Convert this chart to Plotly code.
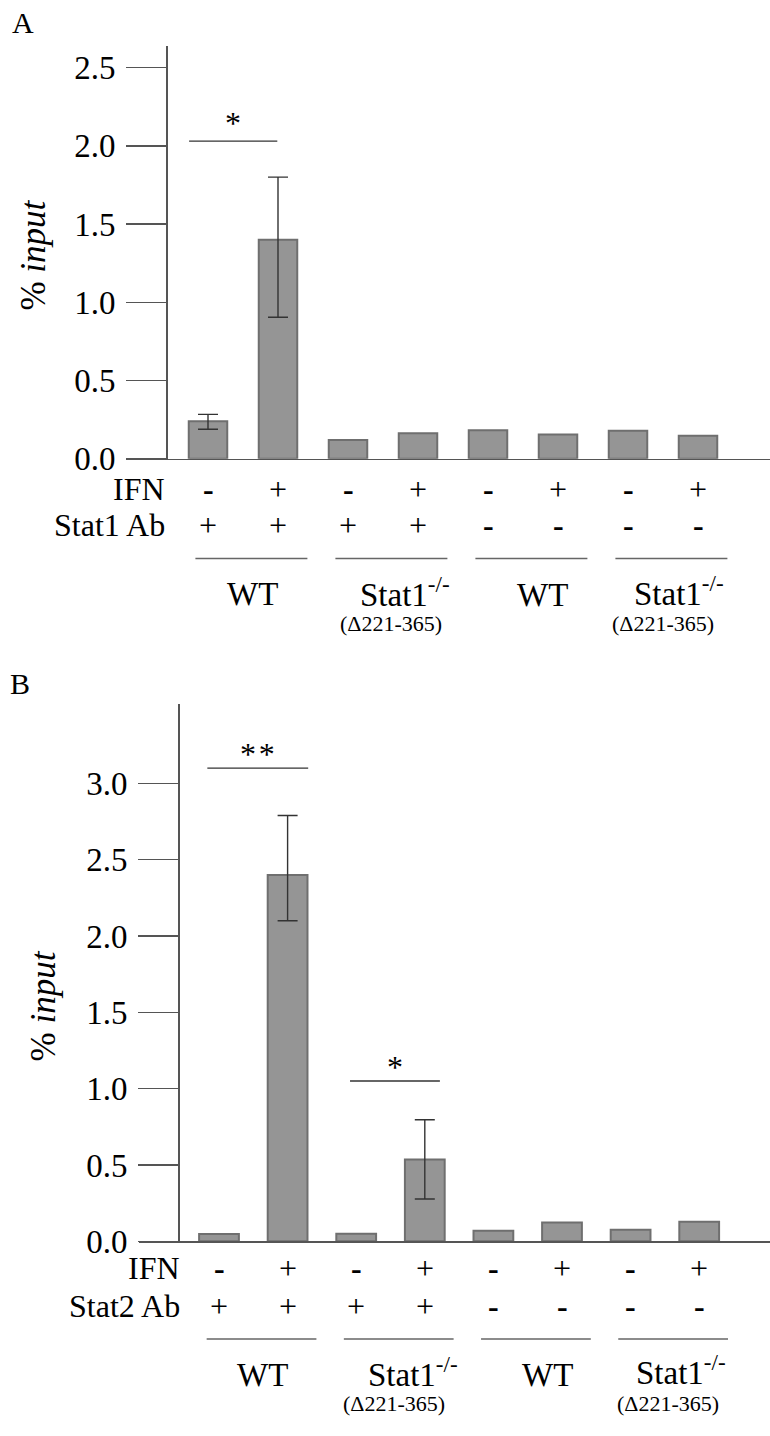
import plotly.graph_objects as go

# ---------------- data ----------------
conditions = ["WT -IFN", "WT +IFN", "Stat1ko -IFN", "Stat1ko +IFN",
              "WT -IFN noAb", "WT +IFN noAb", "Stat1ko -IFN noAb", "Stat1ko +IFN noAb"]
ifn_marks = ["-", "+", "-", "+", "-", "+", "-", "+"]
ab_marks = ["+", "+", "+", "+", "-", "-", "-", "-"]
group_labels = ["WT", "Stat1<sup>-/-</sup>", "WT", "Stat1<sup>-/-</sup>"]
group_sublabels = ["", "(Δ221-365)", "", "(Δ221-365)"]

a_values = [0.24, 1.40, 0.12, 0.163, 0.183, 0.155, 0.18, 0.147]
a_err_idx = [0, 1]
a_err_plus = [0.044, 0.40]
a_err_minus = [0.051, 0.495]
a_ticks = [0.0, 0.5, 1.0, 1.5, 2.0, 2.5]
a_sig = dict(x0=-0.27, x1=0.99, y=2.03, text="*")

b_values = [0.048, 2.40, 0.05, 0.537, 0.069, 0.123, 0.076, 0.128]
b_err_idx = [1, 3]
b_err_plus = [0.39, 0.26]
b_err_minus = [0.30, 0.26]
b_ticks = [0.0, 0.5, 1.0, 1.5, 2.0, 2.5, 3.0]
b_sigs = [dict(x0=-0.17, x1=1.30, y=3.10, text="*&#8202;*"),
          dict(x0=1.91, x1=3.22, y=1.05, text="*")]

# ---------------- layout helpers ----------------
W, H = 770, 1436
FONT = "Liberation Serif"
def fx(px):
    return px / W
def fy(py):
    return 1 - py / H

BAR_FILL = "#959595"
BAR_LINE = "#6f6f6f"
AX = "#555555"

xs = list(range(len(conditions)))

fig = go.Figure()

# Panel A bars
fig.add_trace(go.Bar(x=xs, y=a_values, width=0.55, marker=dict(color=BAR_FILL, line=dict(color=BAR_LINE, width=2)),
                     xaxis="x", yaxis="y", showlegend=False, hoverinfo="skip"))
fig.add_trace(go.Scatter(x=[xs[i] for i in a_err_idx], y=[a_values[i] for i in a_err_idx], mode="markers",
                         marker=dict(size=1, opacity=0),
                         error_y=dict(type="data", symmetric=False, array=a_err_plus, arrayminus=a_err_minus,
                                      color="#333333", thickness=1.4, width=10),
                         xaxis="x", yaxis="y", showlegend=False, hoverinfo="skip"))
# Panel B bars
fig.add_trace(go.Bar(x=xs, y=b_values, width=0.58, marker=dict(color=BAR_FILL, line=dict(color=BAR_LINE, width=2)),
                     xaxis="x2", yaxis="y2", showlegend=False, hoverinfo="skip"))
fig.add_trace(go.Scatter(x=[xs[i] for i in b_err_idx], y=[b_values[i] for i in b_err_idx], mode="markers",
                         marker=dict(size=1, opacity=0),
                         error_y=dict(type="data", symmetric=False, array=b_err_plus, arrayminus=b_err_minus,
                                      color="#333333", thickness=1.4, width=10),
                         xaxis="x2", yaxis="y2", showlegend=False, hoverinfo="skip"))

common_x = dict(showticklabels=False, ticks="", showgrid=False, zeroline=False,
                showline=True, linecolor=AX, linewidth=1.5, fixedrange=True)
common_y = dict(showgrid=False, zeroline=False, showline=True, linecolor=AX, linewidth=1.5,
                ticks="outside", ticklen=40, tickcolor=AX, tickwidth=1.5, tickformat=".1f",
                ticklabelstandoff=4,
                tickfont=dict(family=FONT, size=33, color="black"), fixedrange=True)

# Panel A geometry: bars at 208 + 70*i px, baseline y=465, 158.6 px/unit
fig.update_layout(
    xaxis=dict(domain=[fx(127), 1], range=[(127 - 208) / 70, (770 - 208) / 70], anchor="y", **common_x),
    yaxis=dict(domain=[fy(465), fy(47)], range=[0, (465 - 47) / 158.6], anchor="free", position=fx(166),
               tickvals=a_ticks, **common_y),
    xaxis2=dict(domain=[fx(139), 1], range=[(139 - 219) / 68.6, (770 - 219) / 68.6], anchor="y2", **common_x),
    yaxis2=dict(domain=[fy(1258), fy(713)], range=[0, (1258 - 713) / 154.7], anchor="free", position=fx(178),
                tickvals=b_ticks, **common_y),
)

annotations = []
shapes = []

def txt(x, y, text, size, xref="paper", yref="paper", xanchor="center", yanchor="middle", **kw):
    d = dict(x=x, y=y, text=text, xref=xref, yref=yref, showarrow=False, xanchor=xanchor, yanchor=yanchor,
             font=dict(family=FONT, size=size, color="black"))
    d.update(kw)
    annotations.append(d)

def mark(m):
    return "<b>-</b>" if m == "-" else m

def panel(xref, row1_y, row2_y, label_right, ab_name, line_y, lab_x, lab_y, sub_x, sub_y,
          ytitle_x, ytitle_y):
    txt(fx(label_right), fy(row1_y), "IFN", 32, xanchor="right")
    txt(fx(label_right), fy(row2_y), ab_name, 32, xanchor="right")
    for i in xs:
        txt(i, fy(row1_y), mark(ifn_marks[i]), 32, xref=xref)
        txt(i, fy(row2_y), mark(ab_marks[i]), 32, xref=xref)
    for g in range(4):
        shapes.append(dict(type="line", xref=xref, yref="paper", x0=2 * g - 0.18, x1=2 * g + 1.42,
                           y0=fy(line_y), y1=fy(line_y), line=dict(color="#666666", width=1.5)))
        txt(fx(lab_x[g]), fy(lab_y[g]), group_labels[g], 33)
        if group_sublabels[g]:
            txt(fx(sub_x[g]), fy(sub_y), group_sublabels[g], 22)
    txt(fx(ytitle_x), fy(ytitle_y), "% <i>input</i>", 35, textangle=-90)

panel("x", 496, 532, 167, "Stat1 Ab", 566, [252, 405, 542, 679], [602, 600, 603, 599],
      [0, 391, 0, 663], 632, 34, 259)
panel("x2", 1285, 1324, 182, "Stat2 Ab", 1357, [262, 413, 547, 681], [1393, 1390, 1393, 1388],
      [0, 394, 0, 668], 1422, 44, 1020)

# significance lines
for sig, xr, yr, ys in [(a_sig, "x", "y", 18)] + [(s, "x2", "y2", 14) for s in b_sigs]:
    shapes.append(dict(type="line", xref=xr, yref=yr, x0=sig["x0"], x1=sig["x1"], y0=sig["y"], y1=sig["y"],
                       line=dict(color="#333333", width=1.4)))
    txt((sig["x0"] + sig["x1"]) / 2, sig["y"], sig["text"], 32, xref=xr, yref=yr, yanchor="middle", yshift=ys)

# panel letters
txt(fx(23), fy(23), "A", 30)
txt(fx(20), fy(693), "B", 30)

fig.update_layout(
    width=W, height=H, margin=dict(l=0, r=0, t=0, b=0),
    paper_bgcolor="white", plot_bgcolor="white",
    annotations=annotations, shapes=shapes, showlegend=False,
    font=dict(family=FONT, size=32, color="black"),
)

fig.write_html("out.html", config={"displayModeBar": False, "staticPlot": True},
               post_script="document.body.style.margin='0';document.body.style.overflow='hidden';")
